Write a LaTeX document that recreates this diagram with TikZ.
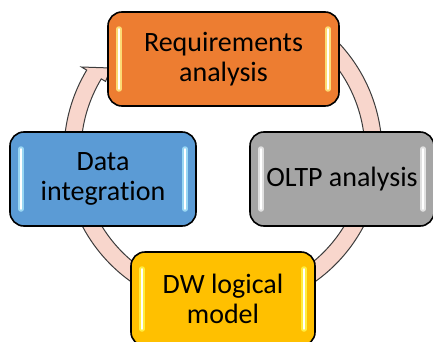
\documentclass[tikz,border=0pt]{standalone}
\usepackage{fontspec}
\setmainfont{Carlito}[Ligatures=NoCommon]
\usetikzlibrary{positioning}

\definecolor{reqOrange}{RGB}{237,125,49}
\definecolor{dataBlue}{RGB}{91,155,213}
\definecolor{oltpGray}{RGB}{165,165,165}
\definecolor{dwGold}{RGB}{255,192,0}
\definecolor{ringPink}{RGB}{248,214,204}
\definecolor{ringEdge}{RGB}{60,60,60}

\tikzstyle{stage} = [rectangle, draw=black, line width=1.6pt, rounded corners=14pt,
  minimum height=94pt, align=center, inner sep=0pt,
  font=\fontsize{28}{30}\selectfont]
\tikzstyle{cycleRing} = [draw=ringEdge, fill=ringPink, line width=1pt]
% light streaks near the left and right edges of a box
\tikzset{glint/.style={path picture={
  \foreach \side/\dx in {west/11pt, east/-11pt} {
    \draw[#1, line width=5.5pt, line cap=round, opacity=0.85]
      ([xshift=\dx,yshift=-17pt]path picture bounding box.north \side) --
      ([xshift=\dx,yshift=17pt]path picture bounding box.south \side);
    \draw[white, line width=1.6pt, line cap=round]
      ([xshift=\dx,yshift=-17pt]path picture bounding box.north \side) --
      ([xshift=\dx,yshift=17pt]path picture bounding box.south \side);
  }}}}

\begin{document}
\begin{tikzpicture}[x=1pt,y=1pt]

   \useasboundingbox (0,0) rectangle (433,341);
   \clip (0,0) rectangle (433,341);

   % Cycle arrow behind the boxes
   \begin{scope}[shift={(223,189)}]
     \coordinate (tip) at (-112,84);
     \path[cycleRing] (60:159) arc[start angle=60, end angle=-211, radius=159]
        -- (-211:165) -- (tip) -- (-211:137) -- (-211:142)
        arc[start angle=-211, end angle=60, radius=142] -- cycle;
   \end{scope}

   %% Boxes

   \node[stage, fill=reqOrange, minimum width=231pt, glint={orange!30!yellow!50}] (req) at (223.5,282) {Requirements\\analysis};
   \node[stage, fill=oltpGray, minimum width=184pt, glint={white!85!gray}] (oltp) at (342,162) {OLTP analysis};
   \node[stage, fill=dwGold, minimum width=184pt, glint={yellow!70}] (dw) at (223,42) {DW logical\\model};
   \node[stage, fill=dataBlue, minimum width=186pt, glint={cyan!35}] (data) at (103,162) {Data\\integration};

\end{tikzpicture}
\end{document}
